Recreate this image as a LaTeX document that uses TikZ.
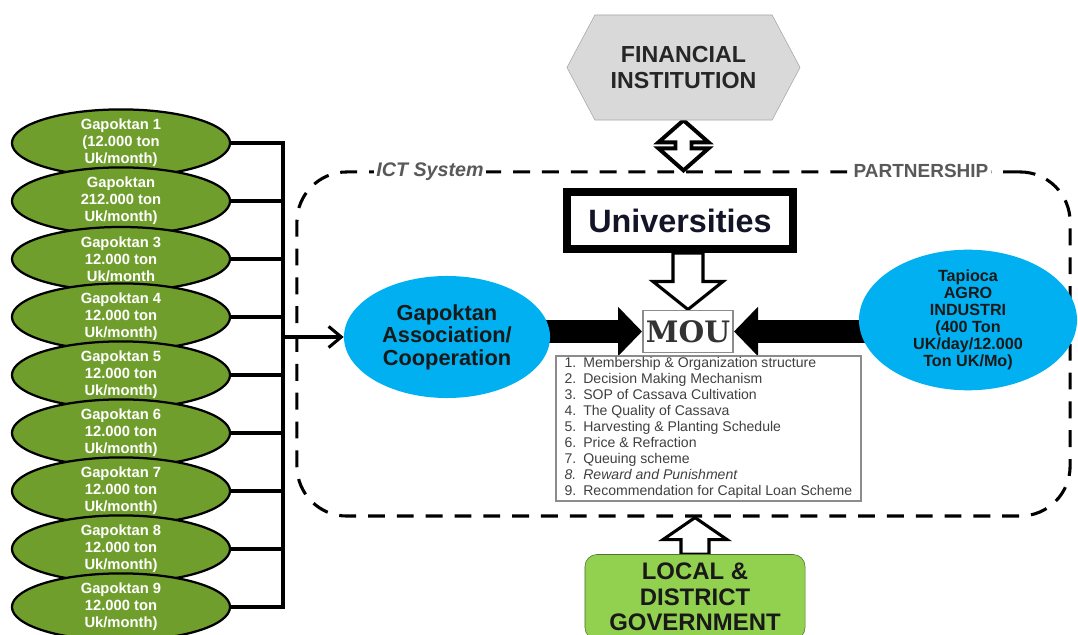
\documentclass[tikz,border=0pt]{standalone}
\usepackage{fontspec}
\setmainfont{Liberation Sans}
\newfontfamily\moufont{DejaVu Serif}
\usetikzlibrary{shapes.geometric,shapes.symbols,arrows.meta,calc,backgrounds}

\definecolor{gapgreen}{RGB}{112,158,44}
\definecolor{partnerblue}{RGB}{0,176,240}
\definecolor{govgreen}{RGB}{146,208,80}
\definecolor{fingray}{RGB}{217,217,217}
\definecolor{labelgray}{RGB}{89,89,89}

\begin{document}
\begin{tikzpicture}[x=0.025cm, y=-0.025cm,
    gapoktan/.style={ellipse, draw=black, line width=1.6pt, fill=gapgreen,
        minimum width=5.45cm, minimum height=1.6cm, inner sep=0pt, align=center,
        text=white, font=\fontsize{10.5}{12}\selectfont\bfseries},
    partner/.style={ellipse, fill=partnerblue, inner sep=0pt, align=center, text=black!90},
    hollow/.style={draw=black, line width=2.2pt, fill=white, line join=miter},
    bigarrow/.style={line width=0.55cm, -{Triangle[length=0.6cm, width=1.2cm]}},
    feed/.style={line width=2.2pt},
    boxlabel/.style={fill=white, inner sep=2pt, text=labelgray}
    ]
    \useasboundingbox (0,0) rectangle (1078,635);

    % ICT system / partnership frame
    \node[draw=black, line width=2.2pt, dash pattern=on 12pt off 8.5pt, rounded corners=1.25cm,
        minimum width=19.325cm, minimum height=8.6cm] (ict) at (683.5,344) {};
    \node[boxlabel, font=\fontsize{14}{16}\selectfont\bfseries\itshape] (ictlabel) at (430,172) {ICT System};
    \node[boxlabel, font=\fontsize{13.5}{16}\selectfont\bfseries] (partlabel) at (921,171) {PARTNERSHIP};

    % Farmer groups
    \foreach \i/\txt in {1/{Gapoktan 1\\(12.000 ton\\Uk/month)},
                         2/{Gapoktan\\212.000 ton\\Uk/month)},
                         3/{Gapoktan 3\\12.000 ton\\Uk/month},
                         4/{Gapoktan 4\\12.000 ton\\Uk/month)},
                         5/{Gapoktan 5\\12.000 ton\\Uk/month)},
                         6/{Gapoktan 6\\12.000 ton\\Uk/month)},
                         7/{Gapoktan 7\\12.000 ton\\Uk/month)},
                         8/{Gapoktan 8\\12.000 ton\\Uk/month)},
                         9/{Gapoktan 9\\12.000 ton\\Uk/month)}}
        \node[gapoktan] (g\i) at (121,85+58*\i) {\txt};

    % Partners
    \node[signal, signal to=west and east, signal pointer angle=124, draw=black!35, fill=fingray,
        minimum width=5.825cm, minimum height=2.625cm, inner sep=0pt, align=center,
        font=\fontsize{16.5}{18}\selectfont\bfseries, text=black!85] (fin) at (683.5,67.5) {FINANCIAL\\INSTITUTION};
    \node[draw=black, line width=5.7pt, fill=white, minimum width=5.65cm, minimum height=1.425cm,
        font=\fontsize{23}{26}\selectfont\bfseries, text={rgb,255:red,20;green,20;blue,40}] (uni) at (680,220.5) {Universities};
    \node[partner, minimum width=5.15cm, minimum height=3.05cm,
        font=\fontsize{15.5}{16}\selectfont\bfseries] (assoc) at (447,337) {Gapoktan\\Association/\\Cooperation};
    \node[partner, minimum width=5.45cm, minimum height=3.15cm,
        font=\fontsize{11.5}{12}\selectfont\bfseries] (tapioca) at (968,320) {Tapioca\\AGRO\\INDUSTRI\\(400 Ton\\UK/day/12.000\\Ton UK/Mo)};
    \node[draw=black!45, line width=1.4pt, fill=white, minimum width=2.25cm, minimum height=1.05cm,
        inner sep=0pt, font=\moufont\fontsize{21}{22}\selectfont\bfseries, text=black!80] (mou) at (688,331.5) {MOU};
    \node[draw=black!45, line width=1.2pt, fill=white, minimum width=7.625cm, minimum height=3.625cm,
        inner sep=0pt, anchor=north west, text=black!75, font=\fontsize{10}{11.4}\selectfont] (terms) at (555,355) {%
        \begin{tabular}{@{}l@{\hspace{5pt}}l@{}}
        1. & Membership \& Organization structure\\
        2. & Decision Making Mechanism\\
        3. & SOP of Cassava Cultivation\\
        4. & The Quality of Cassava\\
        5. & Harvesting \& Planting Schedule\\
        6. & Price \& Refraction\\
        7. & Queuing scheme\\
        \itshape 8. & \itshape Reward and Punishment\\
        9. & Recommendation for Capital Loan Scheme
        \end{tabular}};
    \node[draw=govgreen!55!black, fill=govgreen, rounded corners=0.3cm, minimum width=5.5cm,
        minimum height=2.125cm, align=center, font=\fontsize{17}{18}\selectfont\bfseries,
        text=black!90] (gov) at (695,597) {LOCAL \&\\DISTRICT\\GOVERNMENT};

    % Groups feed the association
    \coordinate (bus) at (283,337);
    \draw[feed] (g1.east) -| (g9.east -| bus) -- (g9.east);
    \foreach \i in {2,...,8}
        \draw[feed] (g\i.east) -- (g\i.east -| bus);
    \draw[feed, -{Straight Barb[length=9pt, width=15pt]}] (bus) -- (assoc.west);

    \begin{scope}[on background layer]
        % Both sides sign the MOU
        \draw[bigarrow] (assoc.center |- mou.west) -- (mou.west);
        \draw[bigarrow] (tapioca.center |- mou.east) -- (mou.east);
        % Universities down to MOU
        \coordinate (uS) at (uni.south -| mou.north);
        \draw[hollow] ($(uS)+(-15,0)$) -- ($(mou.north)+(-15,-28)$) -- ($(mou.north)+(-35,-28)$)
            -- (mou.north) -- ($(mou.north)+(35,-28)$) -- ($(mou.north)+(15,-28)$)
            -- ($(uS)+(15,0)$) -- cycle;
        % Financial institution both ways
        \draw[hollow, line width=2.8pt] (fin.south) -- ($(fin.south)+(-25,22)$) -- ($(fin.south)+(-8,22)$)
            -- ($(ict.north)+(-8,-22)$) -- ($(ict.north)+(-25,-22)$) -- (ict.north)
            -- ($(ict.north)+(25,-22)$) -- ($(ict.north)+(8,-22)$)
            -- ($(fin.south)+(8,22)$) -- ($(fin.south)+(25,22)$) -- cycle;
        % Government up to the frame
        \coordinate (gT) at (ict.south -| gov.north);
        \draw[hollow] ($(gov.north)+(-14,0)$) -- ($(gT)+(-14,22)$) -- ($(gT)+(-32,22)$)
            -- (gT) -- ($(gT)+(32,22)$) -- ($(gT)+(14,22)$) -- ($(gov.north)+(14,0)$) -- cycle;
    \end{scope}
\end{tikzpicture}
\end{document}
